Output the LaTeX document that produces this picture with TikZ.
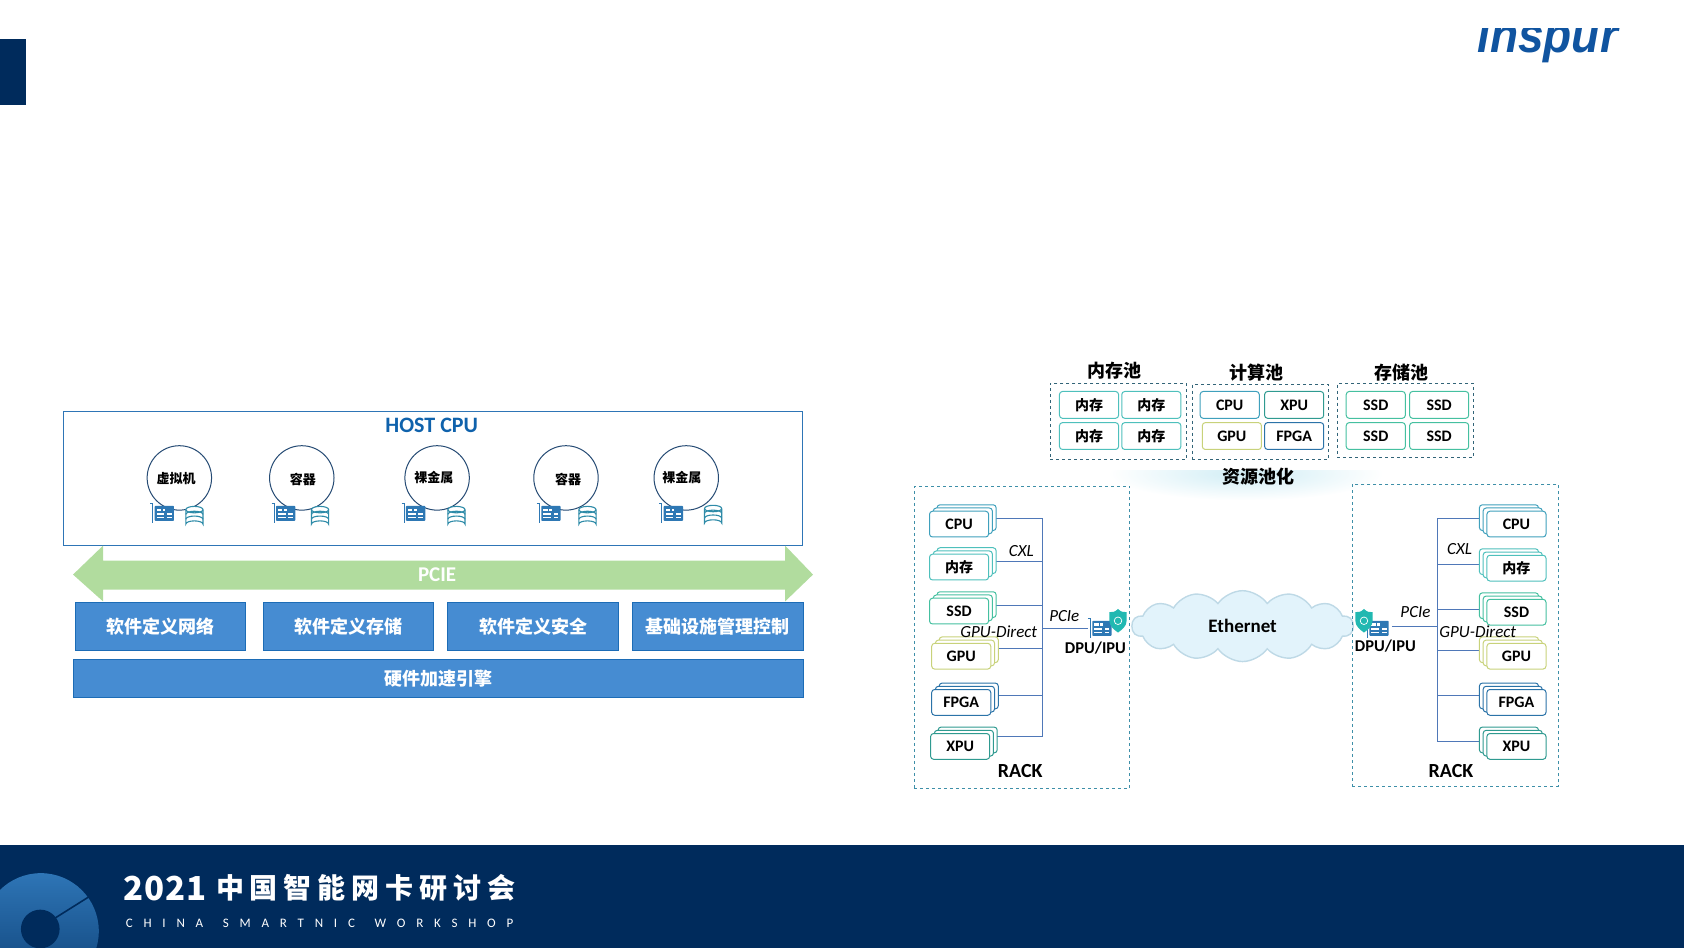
\documentclass[tikz,border=0pt]{standalone}
\usepackage{fontspec}
\setmainfont{Carlito}
\newfontfamily\cjk{Noto Sans CJK SC}
\newfontfamily\logofont{Liberation Sans}
\usepackage{xcolor}
\usetikzlibrary{positioning, shapes.symbols, shadows, backgrounds, calc}
\definecolor{navy}{RGB}{0,43,92}
\definecolor{hostblue}{RGB}{46,117,182}
\definecolor{hosttext}{RGB}{15,98,172}
\definecolor{pciegreen}{RGB}{177,220,158}
\definecolor{fnblue}{RGB}{70,140,210}
\definecolor{fnedge}{RGB}{28,108,182}
\definecolor{cardblue}{RGB}{46,120,180}
\definecolor{dbteal}{RGB}{46,139,168}
\definecolor{tealA}{RGB}{78,192,188}
\definecolor{tealB}{RGB}{69,192,160}
\definecolor{tealC}{RGB}{47,154,144}
\definecolor{cyanA}{RGB}{63,160,188}
\definecolor{yellowA}{RGB}{200,210,122}
\definecolor{blueA}{RGB}{43,115,168}
\definecolor{dashgray}{RGB}{50,100,120}
\definecolor{rackblue}{RGB}{62,143,168}
\definecolor{busblue}{RGB}{79,120,184}
\definecolor{cloudfill}{RGB}{226,243,251}
\definecolor{cloudedge}{RGB}{190,217,230}
\definecolor{glow}{RGB}{208,237,245}
\definecolor{logoblue}{RGB}{16,84,160}
\def\unitpx{1.074pt}

\begin{document}
\begin{tikzpicture}[
    x=1.074pt,y=-1.074pt,
    boxsize/.style 2 args={minimum width=#1*\unitpx,minimum height=#2*\unitpx,inner sep=0pt},
    hostbox/.style={draw=hostblue,fill=white,line width=0.8pt},
    vmcircle/.style={circle,draw=navy!85,fill=white,line width=1pt,minimum size=60*\unitpx,inner sep=0pt},
    vmlabel/.style={font=\cjk\bfseries\fontsize{13}{15}\selectfont,inner sep=0pt},
    fnbox/.style={draw=fnedge,fill=fnblue,line width=1pt,text=white,font=\cjk\bfseries\fontsize{18}{20}\selectfont},
    pooltitle/.style={font=\cjk\bfseries\fontsize{18}{20}\selectfont,inner sep=0pt},
    poolbox/.style={draw=dashgray,dashed,line width=0.8pt},
    rackbox/.style={draw=rackblue,dashed,line width=0.8pt},
    unit/.style={draw=#1,fill=white,rounded corners=3pt,line width=1pt,boxsize={55}{25},font=\bfseries\fontsize{16}{18}\selectfont},
    cunit/.style={unit=#1,font=\cjk\bfseries\fontsize{14}{17}\selectfont},
    stackL/.style={draw=#1,fill=white,rounded corners=3pt,line width=1pt,boxsize={55}{24},font=\bfseries\fontsize{16}{18}\selectfont,
      double copy shadow={shadow xshift=3.5*\unitpx,shadow yshift=3*\unitpx,draw=#1,fill=white,opacity=1}},
    stackR/.style={draw=#1,fill=white,rounded corners=3pt,line width=1pt,boxsize={55}{24},font=\bfseries\fontsize{16}{18}\selectfont,
      double copy shadow={shadow xshift=-3.5*\unitpx,shadow yshift=3*\unitpx,draw=#1,fill=white,opacity=1}},
    busline/.style={draw=busblue,line width=1pt},
    linktext/.style={font=\itshape\fontsize{17}{19}\selectfont,inner sep=0pt},
    labeltext/.style={font=\bfseries\fontsize{16.5}{18}\selectfont,inner sep=0pt},
    cardicon/.pic={
      \fill[cardblue,rounded corners=0.8pt] (-9,-7) rectangle (9,7);
      \fill[white] (-7,-4.5) rectangle (-3,-2);
      \fill[white] (-1.5,-4.5) rectangle (1,-2);
      \fill[white] (-7,0) rectangle (0,1.2);
      \fill[white] (-7,3) rectangle (0,4.2);
      \fill[white] (2.5,0) rectangle (7,1.2);
      \fill[white] (2.5,3) rectangle (7,4.2);
      \draw[cardblue,line width=0.6pt] (-13,-9) -- (-11,-9) -- (-11,9);
    },
    dbicon/.pic={
      \draw[dbteal,fill=white,line width=1.1pt] (-8,-6) -- (-8,7) arc[x radius=8,y radius=3,start angle=180,end angle=360] -- (8,-6);
      \draw[dbteal,fill=white,line width=1.1pt] (0,-6.5) ellipse (8 and 3);
      \draw[dbteal,line width=1.1pt] (-8,-2) arc[x radius=8,y radius=3,start angle=180,end angle=360];
      \draw[dbteal,line width=1.1pt] (-8,2.5) arc[x radius=8,y radius=3,start angle=180,end angle=360];
    },
    shieldicon/.pic={
      \fill[tealC!70!cyan] (0,-11) .. controls (3,-8) and (5,-8) .. (8,-8) -- (8,0) .. controls (8,5) and (4,8) .. (0,11)
        .. controls (-4,8) and (-8,5) .. (-8,0) -- (-8,-8) .. controls (-5,-8) and (-3,-8) .. (0,-11);
      \draw[white,line width=0.7pt] (0,0) circle (3.5);
    }
  ]
  \useasboundingbox (0,0) rectangle (1568,882.7);

  % Header
  \fill[navy] (0,36) rectangle (24,98);
  \begin{scope}
    \clip (1360,26.5) rectangle (1520,70);
    \node[transform shape,xscale=0.92,font=\logofont\bfseries\itshape\fontsize{50}{50}\selectfont,logoblue,inner sep=0pt] (logo) at (1441,37) {inspur};
  \end{scope}

  % Footer
  \fill[navy] (0,787) rectangle (1568,882.7);
  \begin{scope}
    \clip (0,787) rectangle (1568,882.7);
    \shade[top color=hostblue,bottom color=navy!70!hostblue] (38,867) circle (54);
    \draw[navy,line width=1.6pt] (51,855) -- (86,833);
    \fill[navy] (37.5,865) circle (18);
  \end{scope}
  \node[anchor=west,text=white,inner sep=0pt,font=\cjk\bfseries\fontsize{33}{35}\selectfont] (yearText) at (115,827)
    {\addfontfeature{LetterSpace=3}2021};
  \node[anchor=west,text=white,inner sep=0pt,font=\cjk\bfseries\fontsize{28}{32}\selectfont] (confText) at (201,827)
    {\addfontfeature{LetterSpace=21}中国智能网卡研讨会};
  \node[anchor=west,text=white,inner sep=0pt,font=\fontsize{13}{15}\selectfont] (confSub) at (117,860)
    {\addfontfeature{LetterSpace=83}CHINA\hspace{6pt} SMARTNIC\hspace{6pt} WORKSHOP};

  % HOST CPU
  \node[hostbox,boxsize={688}{125}] (hostBox) at (403,445.5) {};
  \node[font=\bfseries\fontsize{22}{24}\selectfont,hosttext,inner sep=0pt] (hostText) at (402,396) {HOST CPU};

  \node[vmcircle] (vmA) at (167,445) {};
  \node[vmlabel] (vmAtext) at (164,446) {虚拟机};
  \pic at (153,478) {cardicon};
  \pic at (181,481) {dbicon};

  \node[vmcircle] (vmB) at (281,445) {};
  \node[vmlabel] (vmBtext) at (282,446) {容器};
  \pic at (266,478) {cardicon};
  \pic at (298,481) {dbicon};

  \node[vmcircle] (vmC) at (407,445) {};
  \node[vmlabel] (vmCtext) at (404,445) {裸金属};
  \pic at (387,478) {cardicon};
  \pic at (425,481) {dbicon};

  \node[vmcircle] (vmD) at (527,445) {};
  \node[vmlabel] (vmDtext) at (529,446) {容器};
  \pic at (513,478) {cardicon};
  \pic at (547,481) {dbicon};

  \node[vmcircle] (vmE) at (639,445) {};
  \node[vmlabel] (vmEtext) at (635,445) {裸金属};
  \pic at (627,478) {cardicon};
  \pic at (664,480) {dbicon};

  % PCIE
  \fill[pciegreen] (68,535) -- (96,508) -- (96,522) -- (731,522) -- (731,508) -- (757,535)
    -- (731,560) -- (731,549) -- (96,549) -- (96,560) -- cycle;
  \node[text=white,font=\bfseries\fontsize{21}{23}\selectfont,inner sep=0pt] (pcieText) at (407,535) {PCIE};

  % Functions
  \node[fnbox,boxsize={159}{45}] (fnNet) at (149.5,583.5) {软件定义网络};
  \node[fnbox,boxsize={159}{45}] (fnStore) at (324.5,583.5) {软件定义存储};
  \node[fnbox,boxsize={159}{45}] (fnSafe) at (496.5,583.5) {软件定义安全};
  \node[fnbox,boxsize={159}{45}] (fnMgmt) at (668.5,583.5) {基础设施管理控制};
  \node[fnbox,boxsize={680}{35}] (fnAccel) at (408,631.5) {硬件加速引擎};

  % Pools
  \node[pooltitle] (memTitle) at (1038,345) {内存池};
  \node[pooltitle] (cpuTitle) at (1170,347) {计算池};
  \node[pooltitle] (ssdTitle) at (1305,347) {存储池};
  \node[poolbox,boxsize={127}{71}] (memPool) at (1041.5,392.5) {};
  \node[poolbox,boxsize={127}{70}] (cpuPool) at (1173.5,393) {};
  \node[poolbox,boxsize={127}{69}] (ssdPool) at (1308.5,391.5) {};

  \node[cunit=tealA] (memA) at (1014,377) {内存};
  \node[cunit=tealA] (memB) at (1072,377) {内存};
  \node[cunit=tealA] (memC) at (1014,406) {内存};
  \node[cunit=tealA] (memD) at (1072,406) {内存};

  \node[unit=cyanA] (poolCpu) at (1145,377) {CPU};
  \node[unit=tealC] (poolXpu) at (1205,377) {XPU};
  \node[unit=yellowA] (poolGpu) at (1147,406) {GPU};
  \node[unit=blueA] (poolFpga) at (1205,406) {FPGA};

  \node[unit=tealB] (ssdA) at (1281,377) {SSD};
  \node[unit=tealB] (ssdB) at (1340,377) {SSD};
  \node[unit=tealB] (ssdC) at (1281,406) {SSD};
  \node[unit=tealB] (ssdD) at (1340,406) {SSD};

  \begin{scope}
    \clip (1000,438) rectangle (1320,480);
    \shade[inner color=glow,outer color=white] (1160,441) ellipse (128 and 25);
  \end{scope}
  \node[pooltitle] (poolText) at (1172,444) {资源池化};

  % Rack left
  \node[rackbox,boxsize={201}{281}] (rackL) at (951.5,593.5) {};
  \node[stackL=cyanA] (cpuL) at (893,488) {CPU};
  \node[stackL=tealA,font=\cjk\bfseries\fontsize{14}{17}\selectfont] (memL) at (893,528) {内存};
  \node[stackL=tealB] (ssdL) at (893,569) {SSD};
  \node[stackL=yellowA] (gpuL) at (895,611) {GPU};
  \node[stackL=blueA] (fpgaL) at (895,654) {FPGA};
  \node[stackL=tealC] (xpuL) at (894,695) {XPU};
  \coordinate (busLend) at (971,686);
  \coordinate (dpuLin) at (1013,585);
  \begin{scope}[on background layer]
    \draw[busline] ([yshift=5*\unitpx]cpuL.east) -| (busLend);
    \draw[busline] ([yshift=5*\unitpx]memL.east) -| (busLend);
    \draw[busline] ([yshift=5*\unitpx]ssdL.east) -| (busLend);
    \draw[busline] ([yshift=7*\unitpx]gpuL.east) -| (busLend);
    \draw[busline] ([yshift=6*\unitpx]fpgaL.east) -| (busLend);
    \draw[busline] ([yshift=9*\unitpx]xpuL.east) -| (busLend);
    \draw[busline] (dpuLin) -- (dpuLin -| busLend);
  \end{scope}
  \pic at (1026,585) {cardicon};
  \pic at (1041,578) {shieldicon};
  \node[linktext] (cxlL) at (951,513) {CXL};
  \node[linktext] (pcieL) at (991,574) {PCIe};
  \node[linktext] (directL) at (930,588) {GPU-Direct};
  \node[labeltext] (dpuL) at (1020,603) {DPU/IPU};
  \node[font=\bfseries\fontsize{20}{22}\selectfont,inner sep=0pt] (rackLtext) at (950,718) {RACK};

  % Ethernet
  \node[cloud,cloud puffs=14,cloud puff arc=110,aspect=3.2,draw=cloudedge,fill=cloudfill,line width=1.4pt,
    inner sep=0pt,minimum width=206*\unitpx,minimum height=66*\unitpx,
    font=\bfseries\fontsize{19}{21}\selectfont] (ethCloud) at (1157,583) {Ethernet};

  % Rack right
  \node[rackbox,boxsize={192}{281}] (rackR) at (1355,591.5) {};
  \node[stackR=cyanA] (cpuR) at (1412,488) {CPU};
  \node[stackR=tealA,font=\cjk\bfseries\fontsize{14}{17}\selectfont] (memR) at (1412,529) {内存};
  \node[stackR=tealB] (ssdR) at (1412,570) {SSD};
  \node[stackR=yellowA] (gpuR) at (1412,611) {GPU};
  \node[stackR=blueA] (fpgaR) at (1412,654) {FPGA};
  \node[stackR=tealC] (xpuR) at (1412,695) {XPU};
  \coordinate (busRend) at (1338,690);
  \coordinate (dpuRin) at (1296,583.5);
  \begin{scope}[on background layer]
    \draw[busline] ([yshift=5*\unitpx]cpuR.west) -| (busRend);
    \draw[busline] ([yshift=3*\unitpx]memR.west) -| (busRend);
    \draw[busline] ([yshift=2.5*\unitpx]ssdR.west) -| (busRend);
    \draw[busline] ([yshift=5*\unitpx]gpuR.west) -| (busRend);
    \draw[busline] ([yshift=6.5*\unitpx]fpgaR.west) -| (busRend);
    \draw[busline] ([yshift=5*\unitpx]xpuR.west) -| (busRend);
    \draw[busline] (dpuRin) -- (dpuRin -| busRend);
  \end{scope}
  \pic at (1284,585) {cardicon};
  \pic at (1270,578) {shieldicon};
  \node[linktext] (cxlR) at (1359,511) {CXL};
  \node[linktext] (pcieR) at (1318,570) {PCIe};
  \node[linktext] (directR) at (1376,588) {GPU-Direct};
  \node[labeltext] (dpuR) at (1290,602) {DPU/IPU};
  \node[font=\bfseries\fontsize{20}{22}\selectfont,inner sep=0pt] (rackRtext) at (1351,718) {RACK};
\end{tikzpicture}
\end{document}
